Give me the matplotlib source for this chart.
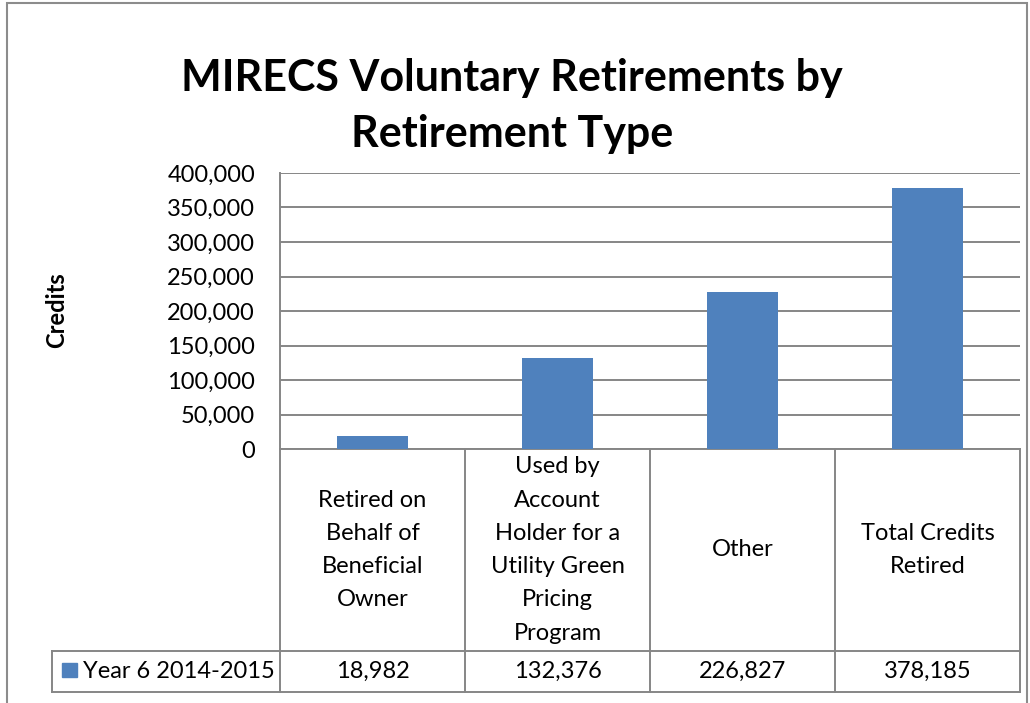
import matplotlib
matplotlib.use("Agg")
import matplotlib.pyplot as plt
import matplotlib.transforms as mtransforms
from matplotlib.patches import Rectangle
from matplotlib.lines import Line2D
from matplotlib.ticker import FuncFormatter

# Dados do gráfico
categorias = [
    "Retired on\nBehalf of\nBeneficial\nOwner",
    "Used by\nAccount\nHolder for a\nUtility Green\nPricing\nProgram",
    "Other",
    "Total Credits\nRetired",
]
valores = [18982, 132376, 226827, 378185]
serie = "Year 6 2014-2015"
y_ticks = [0, 50000, 100000, 150000, 200000, 250000, 300000, 350000, 400000]

plt.rcParams["font.family"] = ["Lato", "DejaVu Sans"]

W, H = 1030, 703
fig = plt.figure(figsize=(W / 100, H / 100), dpi=100)

def fx(px):
    return px / W

def fy(py):
    return 1 - py / H

GRID = "#868686"
LW = 1.4

# Borda externa do gráfico
fig.patches.append(Rectangle((fx(7), fy(710)), fx(1020), (710 - 3) / H,
                             transform=fig.transFigure, fill=False,
                             edgecolor="#8c8c8c", linewidth=1.5))

# Área de plotagem
left, right, top, bottom = 280, 1020, 173, 449
ax = fig.add_axes([fx(left), fy(bottom), fx(right - left), (bottom - top) / H])

x = list(range(len(valores)))
ax.bar(x, valores, width=0.38, color="#4F81BD", zorder=3)
ax.set_xlim(-0.5, len(valores) - 0.5)
ax.set_ylim(0, 400000)
ax.set_yticks(y_ticks)
ax.yaxis.set_major_formatter(FuncFormatter(lambda v, p: f"{int(v):,}"))
ax.tick_params(axis="y", length=0, labelsize=17, pad=18)
ax.set_xticks([])
ax.grid(axis="y", color=GRID, linewidth=LW, zorder=0)
for s in ax.spines.values():
    s.set_visible(False)
ax.spines["left"].set_visible(True)
ax.spines["left"].set_color(GRID)
ax.spines["left"].set_linewidth(LW)

# Título e eixo
fig.text(fx(512), fy(106), "MIRECS Voluntary Retirements by\nRetirement Type",
         ha="center", va="center", fontsize=31, fontweight="bold",
         linespacing=1.5)
fig.text(fx(57), fy(310), "Credits", rotation=90, ha="center", va="center",
         fontsize=17, fontweight="bold")

# Tabela de dados abaixo do gráfico
trans = mtransforms.blended_transform_factory(ax.transData, ax.transAxes)
ax_h = bottom - top
header_bot = -(651 - bottom) / ax_h
data_bot = -(692 - bottom) / ax_h
grid_kw = dict(color=GRID, linewidth=LW, clip_on=False)

for b in [i - 0.5 for i in range(len(valores) + 1)]:
    ax.add_line(Line2D([b, b], [0, data_bot], transform=trans, **grid_kw))
ax.add_line(Line2D([-0.5, len(valores) - 0.5], [0, 0], transform=trans, **grid_kw))

# linhas da linha de dados (começam à esquerda da área)
for yy in (651, 692):
    fig.add_artist(Line2D([fx(52), fx(right)], [fy(yy), fy(yy)], color=GRID, linewidth=LW))
fig.add_artist(Line2D([fx(52), fx(52)], [fy(651), fy(692)], color=GRID, linewidth=LW))

header_mid = header_bot / 2
data_mid = (header_bot + data_bot) / 2
for i, (cat, v) in enumerate(zip(categorias, valores)):
    ax.text(i, header_mid, cat, transform=trans, ha="center", va="center",
            fontsize=17, linespacing=1.72)
    ax.text(i, data_mid, f"{v:,}", transform=trans, ha="center", va="center",
            fontsize=17)

# Chave da legenda
fig.patches.append(Rectangle((fx(62), fy(677)), fx(15), 14 / H,
                             transform=fig.transFigure, color="#4F81BD"))
fig.text(fx(83), fy(671), serie, ha="left", va="center", fontsize=17)

fig.savefig("out.png", dpi=100)
plt.close(fig)
